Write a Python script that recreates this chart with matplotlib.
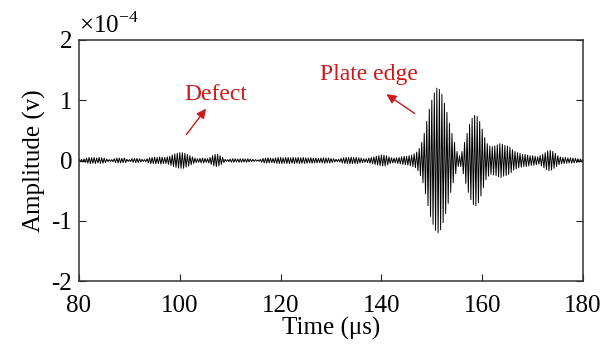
import numpy as np
import matplotlib
matplotlib.use('Agg')
import matplotlib.pyplot as plt

# ---------------------------------------------------------------------------

plt.rcParams['font.family'] = ['Liberation Serif', 'DejaVu Serif']
plt.rcParams['axes.unicode_minus'] = False
plt.rcParams['mathtext.fontset'] = 'custom'
plt.rcParams['mathtext.rm'] = 'Liberation Serif'

dpi = 100.0
RED = '#cc1a1a'

# time of first half-cycle peak and spacing, us
t_start = 80.0
t_step = 0.25

# peak size of each half cycle (units of 1e-4 V),
# one row per 5 us
peak_rows = [
    [0.02, 0.02, 0.02, 0.025, 0.025, 0.03, 0.04, 0.045, 0.05, 0.05,
     0.045, 0.045, 0.05, 0.05, 0.04, 0.04, 0.05, 0.05, 0.045, 0.045],      # 80
    [0.04, 0.035, 0.025, 0.02, 0.015, 0.015, 0.015, 0.02, 0.03, 0.035,
     0.04, 0.04, 0.04, 0.04, 0.035, 0.035, 0.04, 0.035, 0.02, 0.015],      # 85
    [0.015, 0.02, 0.03, 0.03, 0.035, 0.035, 0.035, 0.035, 0.03, 0.025,
     0.02, 0.015, 0.015, 0.02, 0.03, 0.04, 0.045, 0.05, 0.05, 0.05],       # 90
    [0.055, 0.055, 0.05, 0.05, 0.06, 0.06, 0.055, 0.05, 0.05, 0.05,
     0.06, 0.065, 0.07, 0.08, 0.09, 0.10, 0.11, 0.115, 0.12, 0.125],       # 95
    [0.13, 0.13, 0.13, 0.13, 0.12, 0.11, 0.10, 0.09, 0.08, 0.07,
     0.06, 0.05, 0.04, 0.035, 0.03, 0.03, 0.035, 0.04, 0.04, 0.04],       # 100
    [0.035, 0.03, 0.03, 0.04, 0.05, 0.065, 0.08, 0.09, 0.10, 0.10,
     0.10, 0.09, 0.08, 0.065, 0.05, 0.035, 0.02, 0.015, 0.015, 0.02],      # 105
    [0.025, 0.03, 0.03, 0.03, 0.03, 0.025, 0.025, 0.03, 0.03, 0.03,
     0.03, 0.025, 0.025, 0.03, 0.03, 0.025, 0.025, 0.02, 0.02, 0.015],     # 110
    [0.015, 0.01, 0.01, 0.015, 0.02, 0.03, 0.035, 0.04, 0.04, 0.045,
     0.045, 0.04, 0.04, 0.035, 0.035, 0.04, 0.04, 0.045, 0.05, 0.05],      # 115
    [0.05, 0.05, 0.045, 0.045, 0.05, 0.05, 0.05, 0.05, 0.045, 0.045,
     0.05, 0.05, 0.045, 0.045, 0.05, 0.05, 0.045, 0.045, 0.05, 0.05],      # 120
    [0.045, 0.045, 0.04, 0.04, 0.045, 0.045, 0.04, 0.04, 0.04, 0.04,
     0.035, 0.035, 0.04, 0.04, 0.045, 0.045, 0.04, 0.04, 0.04, 0.04],      # 125
    [0.035, 0.035, 0.03, 0.025, 0.02, 0.02, 0.02, 0.025, 0.035, 0.04,
     0.045, 0.05, 0.05, 0.05, 0.05, 0.055, 0.055, 0.05, 0.05, 0.05],       # 130
    [0.05, 0.05, 0.045, 0.04, 0.04, 0.035, 0.03, 0.03, 0.03, 0.035,
     0.04, 0.045, 0.05, 0.055, 0.06, 0.065, 0.07, 0.075, 0.08, 0.085],     # 135
    [0.09, 0.09, 0.09, 0.09, 0.08, 0.07, 0.06, 0.05, 0.045, 0.04,
     0.04, 0.04, 0.045, 0.05, 0.05, 0.055, 0.06, 0.065, 0.07, 0.07],       # 140
    [0.07, 0.075, 0.08, 0.085, 0.09, 0.10, 0.11, 0.12, 0.14, 0.17,
     0.20, 0.25, 0.30, 0.37, 0.45, 0.55, 0.65, 0.75, 0.85, 0.93],          # 145
    [1.00, 1.06, 1.12, 1.16, 1.20, 1.20, 1.18, 1.15, 1.10, 1.03,
     0.95, 0.88, 0.80, 0.71, 0.62, 0.53, 0.45, 0.37, 0.30, 0.22],          # 150
    [0.15, 0.10, 0.08, 0.10, 0.15, 0.22, 0.30, 0.38, 0.45, 0.53,
     0.60, 0.65, 0.70, 0.73, 0.75, 0.75, 0.73, 0.70, 0.65, 0.59],          # 155
    [0.52, 0.45, 0.38, 0.32, 0.28, 0.26, 0.24, 0.23, 0.23, 0.24,
     0.24, 0.25, 0.26, 0.27, 0.28, 0.28, 0.27, 0.26, 0.25, 0.25],          # 160
    [0.24, 0.23, 0.22, 0.20, 0.18, 0.16, 0.15, 0.14, 0.13, 0.12,
     0.12, 0.11, 0.10, 0.10, 0.10, 0.10, 0.09, 0.09, 0.08, 0.08],          # 165
    [0.08, 0.08, 0.07, 0.07, 0.06, 0.06, 0.08, 0.09, 0.10, 0.12,
     0.13, 0.15, 0.16, 0.17, 0.17, 0.16, 0.15, 0.13, 0.12, 0.10],          # 170
    [0.08, 0.07, 0.06, 0.055, 0.05, 0.05, 0.05, 0.045, 0.04, 0.04,
     0.045, 0.045, 0.04, 0.04, 0.035, 0.035, 0.03, 0.03, 0.025, 0.025],    # 175
    [0.02],                                                                # 180
]

x_ticks = [80, 100, 120, 140, 160, 180]
y_ticks = [-2, -1, 0, 1, 2]

# label text, text position, arrow tail, arrow head (data units)
notes = [
    ('Defect', (107.2, 1.10), (101.3, 0.43), (105.2, 0.86)),
    ('Plate edge', (137.5, 1.42), (146.6, 0.78), (141.0, 1.10)),
]

# ---------------------------------------------------------------------------

def main():
    peak_amp = np.array([v for row in peak_rows for v in row])
    k = np.arange(len(peak_amp))
    t = t_start + t_step * k
    y = np.where(k % 2 == 0, 1.0, -1.0) * peak_amp

    fig = plt.figure(figsize=(610 / dpi, 351 / dpi), dpi=dpi)
    ax = fig.add_axes([79 / 610, 1 - 281 / 351, 504 / 610, 241 / 351])
    ax.plot(t, y, color='black', linewidth=0.7)

    ax.set_xlim(80, 180)
    ax.set_ylim(-2, 2)
    ax.set_xticks(x_ticks)
    ax.set_yticks(y_ticks)
    ax.set_xticklabels([str(v) for v in x_ticks])
    ax.set_yticklabels([str(v) for v in y_ticks])
    ax.tick_params(direction='in', length=5, width=0.8, labelsize=18,
                   right=True, top=False, colors='#222222',
                   labelcolor='black')
    ax.tick_params(axis='x', pad=10)
    ax.tick_params(axis='y', pad=5)
    for s in ax.spines.values():
        s.set_linewidth(1.1)
        s.set_color('#333333')

    ax.set_xlabel('Time (\u03bcs)', fontsize=18, labelpad=0)
    ax.set_ylabel('Amplitude (v)', fontsize=18, labelpad=4)
    ax.text(0.0, 1.01, r'$\times$10$^{\mathrm{-4}}$', transform=ax.transAxes,
            fontsize=18, ha='left', va='bottom')

    for label, txt, tail, head in notes:
        ax.text(txt[0], txt[1], label, color=RED, fontsize=17,
                ha='center', va='center')
        ax.annotate('', xy=head, xytext=tail,
                    arrowprops=dict(arrowstyle='-|>', color=RED, lw=1.0,
                                    mutation_scale=14, shrinkA=0, shrinkB=0))

    fig.savefig('out.png', dpi=dpi, facecolor='white')


if __name__ == '__main__':
    main()
